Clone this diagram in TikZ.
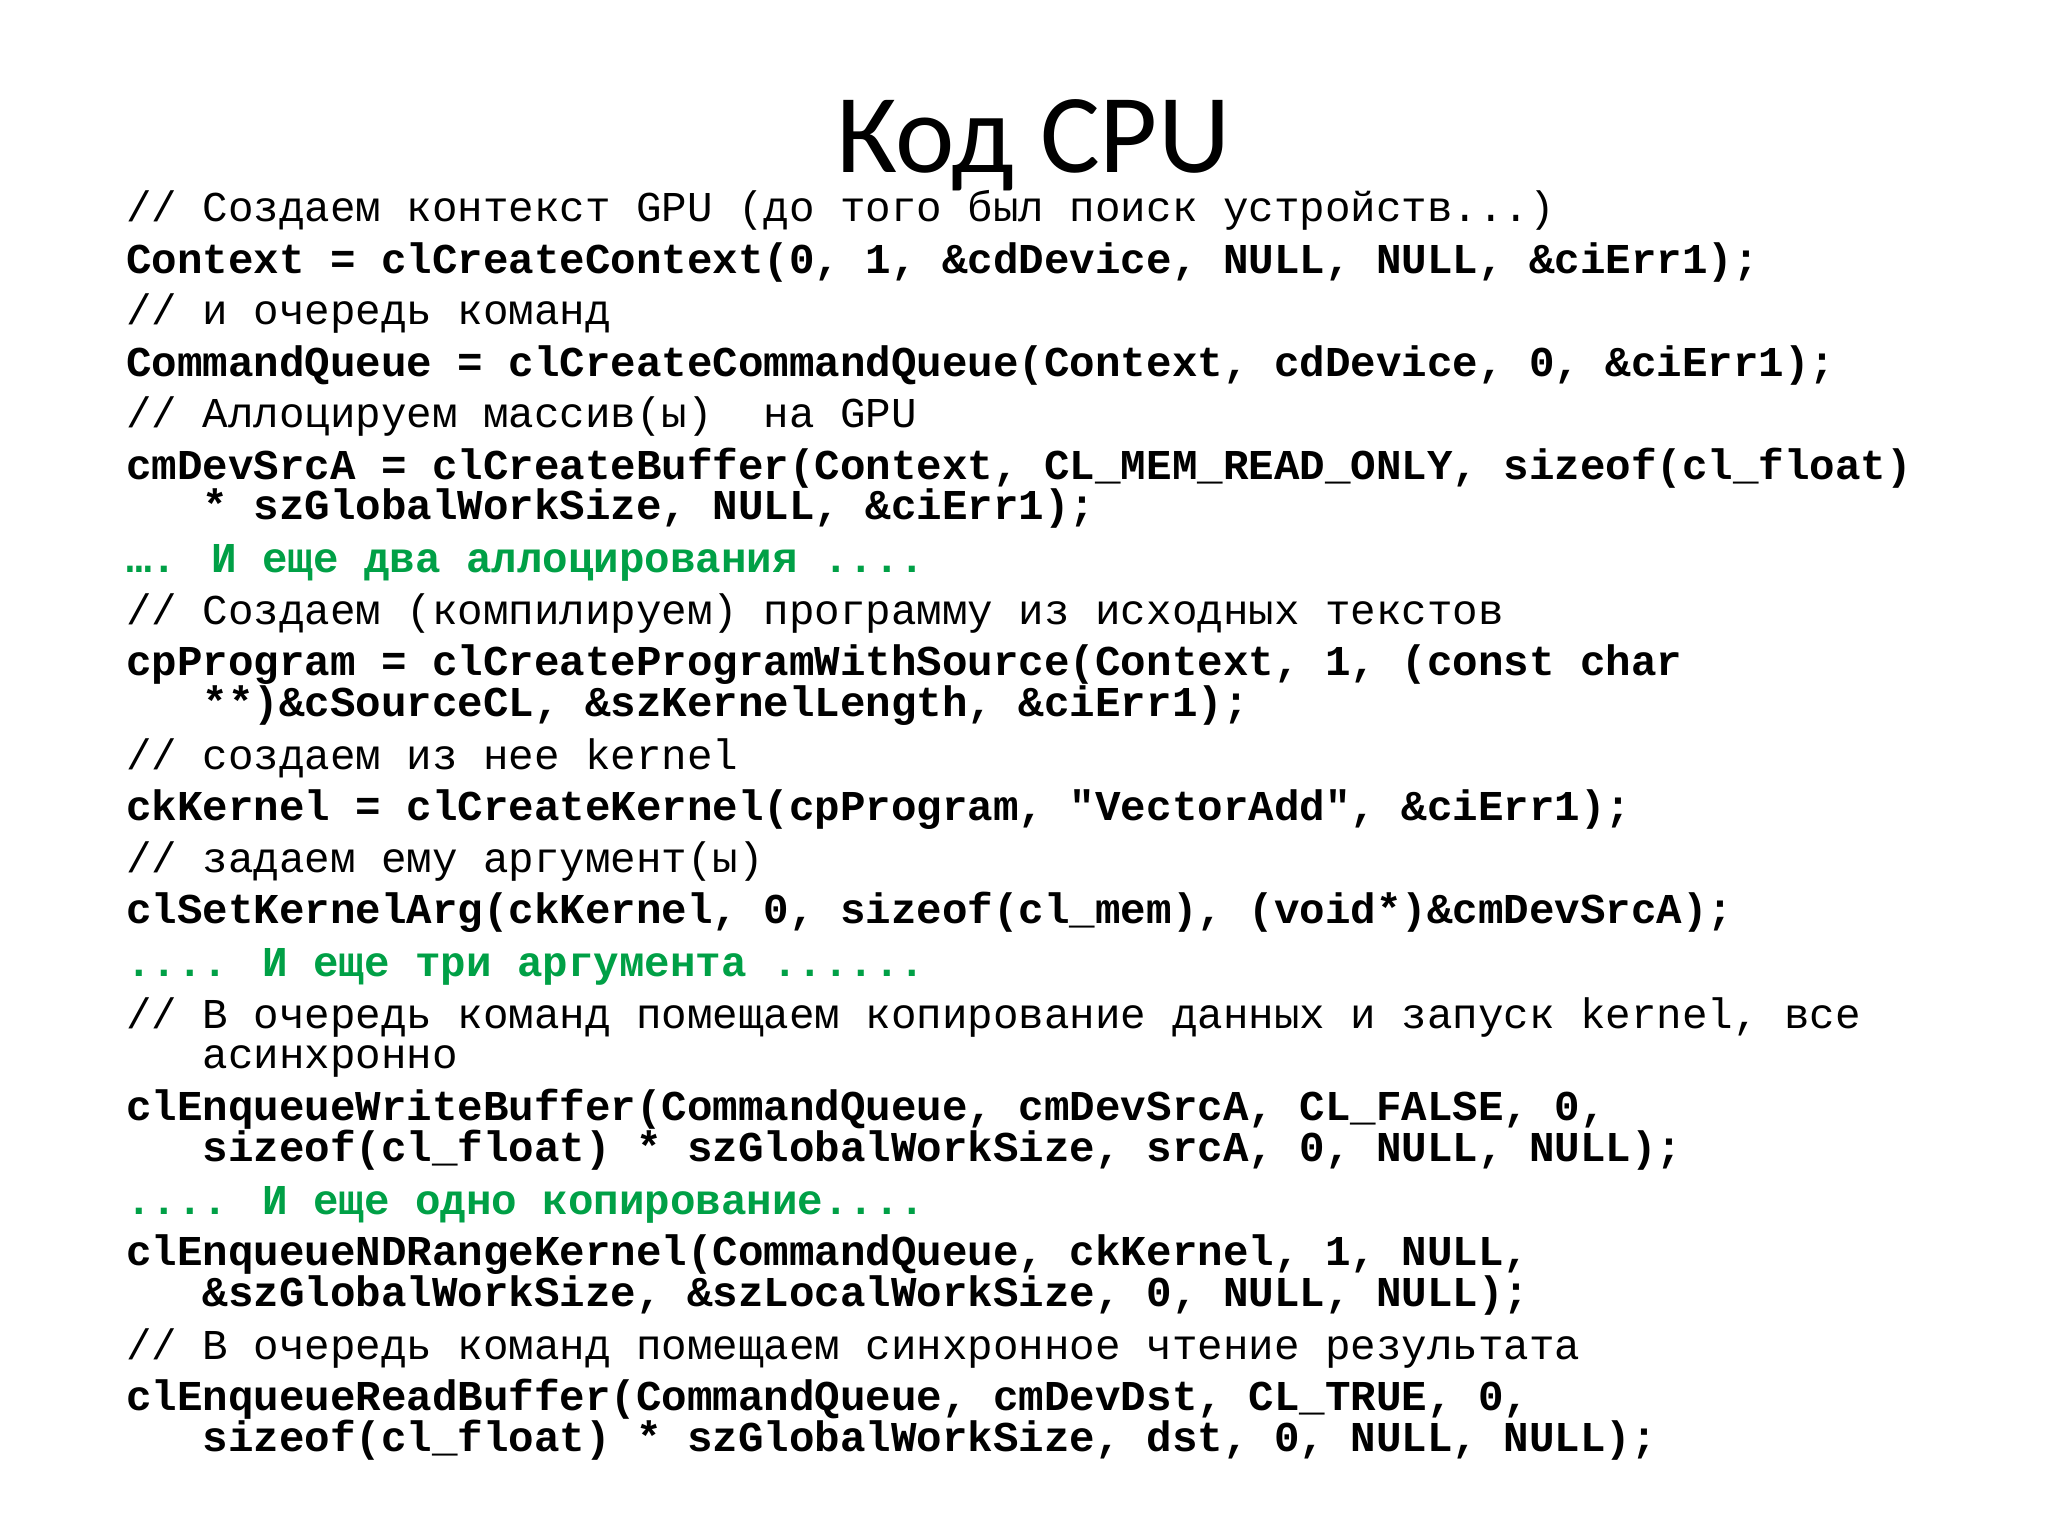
\documentclass[tikz,border=0pt]{standalone}
\usepackage{fontspec}
\newfontfamily\codef[Ligatures=ResetAll]{Liberation Mono}
\newfontfamily\titlef{Carlito}
\definecolor{grn}{RGB}{0,160,70}
\begin{document}
\begin{tikzpicture}[x=0.0132cm,y=-0.0132cm,
  codebold/.style={anchor=base west,inner sep=0,font=\codef\fontsize{12.1}{12}\selectfont\bfseries},
  coderem/.style={anchor=base west,inner sep=0,font=\codef\fontsize{12.1}{12}\selectfont},
  codegreen/.style={codebold,text=grn}]
\useasboundingbox[fill=white] (0,0) rectangle (1552,1164);
\node[anchor=base,inner sep=0,font=\titlef\fontsize{32}{32}\selectfont] (t) at (783,131) {Код CPU};
\begin{scope}[yshift=0.092cm]
\node[coderem] (l1) at (95,175) {// Создаем контекст GPU (до того был поиск устройств...)};
\node[codebold] (l2) at (95,214) {Context = clCreateContext(0, 1, \&cdDevice, NULL, NULL, \&ciErr1);};
\node[coderem] (l3) at (95,253) {// и очередь команд};
\node[codebold] (l4) at (95,292) {CommandQueue = clCreateCommandQueue(Context, cdDevice, 0, \&ciErr1);};
\node[coderem] (l5) at (95,331) {// Аллоцируем массив(ы)\ \ на GPU};
\node[codebold] (l6) at (95,370) {cmDevSrcA = clCreateBuffer(Context, CL\_MEM\_READ\_ONLY, sizeof(cl\_float)};
\node[codebold] (l6b) at (153,401) {* szGlobalWorkSize, NULL, \&ciErr1);};
\node[codegreen] (l7) at (95,441) {…. И еще два аллоцирования ....};
\node[coderem] (l8) at (95,480) {// Создаем (компилируем) программу из исходных текстов};
\node[codebold] (l9) at (95,519) {cpProgram = clCreateProgramWithSource(Context, 1, (const char};
\node[codebold] (l9b) at (153,550) {**)\&cSourceCL, \&szKernelLength, \&ciErr1);};
\node[coderem] (l10) at (95,590) {// создаем из нее kernel};
\node[codebold] (l11) at (95,629) {ckKernel = clCreateKernel(cpProgram, "VectorAdd", \&ciErr1);};
\node[coderem] (l12) at (95,668) {// задаем ему аргумент(ы)};
\node[codebold] (l13) at (95,707) {clSetKernelArg(ckKernel, 0, sizeof(cl\_mem), (void*)\&cmDevSrcA);};
\node[codegreen] (l14) at (95,747) {.... И еще три аргумента ......};
\node[coderem] (l15) at (95,786) {// В очередь команд помещаем копирование данных и запуск kernel, все};
\node[coderem] (l15b) at (153,817) {асинхронно};
\node[codebold] (l16) at (95,856) {clEnqueueWriteBuffer(CommandQueue, cmDevSrcA, CL\_FALSE, 0,};
\node[codebold] (l16b) at (153,887) {sizeof(cl\_float) * szGlobalWorkSize, srcA, 0, NULL, NULL);};
\node[codegreen] (l17) at (95,927) {.... И еще одно копирование....};
\node[codebold] (l18) at (95,966) {clEnqueueNDRangeKernel(CommandQueue, ckKernel, 1, NULL,};
\node[codebold] (l18b) at (153,997) {\&szGlobalWorkSize, \&szLocalWorkSize, 0, NULL, NULL);};
\node[coderem] (l19) at (95,1037) {// В очередь команд помещаем синхронное чтение результата};
\node[codebold] (l20) at (95,1076) {clEnqueueReadBuffer(CommandQueue, cmDevDst, CL\_TRUE, 0,};
\node[codebold] (l20b) at (153,1107) {sizeof(cl\_float) * szGlobalWorkSize, dst, 0, NULL, NULL);};
\end{scope}
\end{tikzpicture}
\end{document}
